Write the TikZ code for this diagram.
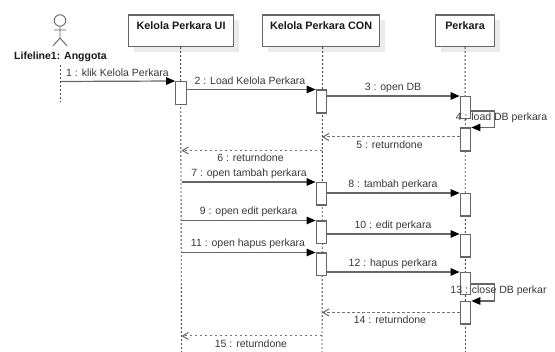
\documentclass[tikz,border=0pt]{standalone}
\usepackage{fontspec}
\setmainfont{Liberation Sans}
\usetikzlibrary{arrows.meta,shadows}
\definecolor{ln}{gray}{0.4}
\definecolor{txt}{gray}{0.22}
\tikzset{
  x=1pt,y=-1pt,
  every node/.style={font=\fontsize{10.5}{12}\selectfont,text=txt,inner sep=0pt},
  box/.style={draw=ln,line width=1.2pt,fill=white,anchor=north west,minimum height=31.5pt,
    text height=14pt,text depth=17.5pt,font=\fontsize{10.8}{12}\selectfont\bfseries,text=black!90,
    general shadow={fill=black!8,shadow xshift=5pt,shadow yshift=-5pt}},
  life/.style={draw=black!70,line width=0.9pt,dash pattern=on 2pt off 2pt},
  act/.style={draw=ln,line width=1.2pt,fill=white,anchor=north,minimum width=10.5pt},
  msg/.style={draw=ln,line width=1.2pt,-{Triangle[length=9pt,width=7.5pt,fill=black,color=black]}},
  ret/.style={draw=black!55,line width=1pt,dash pattern=on 2.5pt off 2.5pt,-{Straight Barb[length=6pt,width=7pt,color=black!60]}},
  lbl/.style={anchor=center}
}
\begin{document}
\begin{tikzpicture}
\useasboundingbox[fill=white] (0,0) rectangle (555,352);
% header boxes
\node[box,minimum width=105pt] (ui) at (128,14.5) {Kelola Perkara UI};
\node[box,minimum width=117pt] (con) at (262,14.5) {Kelola Perkara CON};
\node[box,minimum width=59pt] (per) at (435,14.5) {Perkara};
% actor
\node[draw=ln,line width=0.9pt,circle,minimum size=11.5pt] (head) at (60,20.5) {};
\coordinate (hip) at (60,38);
\coordinate (armL) at (54,30);
\coordinate (armR) at (66,30);
\coordinate (legL) at (53,46);
\coordinate (legR) at (67,46);
\draw[draw=ln,line width=0.9pt] (head.south) -- (hip) (armL) -- (armR) (legL) -- (hip) -- (legR);
\node[font=\fontsize{10.5}{12}\selectfont\bfseries,text=black!90] (actor) at (60.5,57) {Lifeline1: Anggota};
% lifelines
\coordinate (b1) at (60.5,102);
\coordinate (t1) at (60.5,65);
\coordinate (b2) at (181.5,352);
\coordinate (b3) at (322,352);
\coordinate (b4) at (465.5,352);
\draw[life] (t1) -- (b1);
\draw[life] (ui.south) ++(-0.5,0) -- (b2);
\draw[life] (con.south) ++(1.5,0) -- (b3);
\draw[life] (per.south) -- (b4);
% activations
\node[act,minimum height=23pt] (a1) at (181,81) {};
\node[act,minimum height=23pt] (c1) at (321.5,89.5) {};
\node[act,minimum height=22pt] (p1) at (465.5,96) {};
\node[act,minimum height=23pt] (p2) at (465.5,127.5) {};
\node[act,minimum height=22.5pt] (c2) at (321.5,182) {};
\node[act,minimum height=22.5pt] (p3) at (465.5,193) {};
\node[act,minimum height=22.5pt] (c3) at (321.5,220.5) {};
\node[act,minimum height=22.5pt] (p4) at (465.5,234) {};
\node[act,minimum height=22.5pt] (c4) at (321.5,252.5) {};
\node[act,minimum height=22pt] (p5) at (465.5,272) {};
\node[act,minimum height=22.5pt] (p6) at (465.5,301) {};
% messages
\coordinate (s1) at (60.5,81.5);
\draw[msg] (s1) -- (a1.north west);
\draw[msg] (a1.east |- c1.north) -- (c1.north west);
\draw[msg] (c1.east |- p1.north) -- (p1.north west);
\coordinate (y4a) at (494.5,111);
\coordinate (y4b) at (494.5,127.5);
\draw[msg] (p1.east |- y4a) -- (y4a) -- (y4b) -- (p2.north east);
\coordinate (y5) at (322,137);
\draw[ret] (p2.west |- y5) -- (y5);
\coordinate (y6a) at (322,150.5);
\coordinate (y6b) at (181.5,150.5);
\draw[ret] (y6a) -- (y6b);
\coordinate (s7) at (181.5,182);
\draw[msg] (s7) -- (c2.north west);
\draw[msg] (c2.east |- p3.north) -- (p3.north west);
\coordinate (s9) at (181.5,220.5);
\draw[msg] (s9) -- (c3.north west);
\draw[msg] (c3.east |- p4.north) -- (p4.north west);
\coordinate (s11) at (181.5,252.5);
\draw[msg] (s11) -- (c4.north west);
\draw[msg] (c4.east |- p5.north) -- (p5.north west);
\coordinate (y13a) at (494.5,284);
\coordinate (y13b) at (494.5,301);
\draw[msg] (p5.east |- y13a) -- (y13a) -- (y13b) -- (p6.north east);
\coordinate (y14) at (322,312.5);
\draw[ret] (p6.west |- y14) -- (y14);
\coordinate (y15a) at (322,336);
\coordinate (y15b) at (181.5,336);
\draw[ret] (y15a) -- (y15b);
% labels
\node[lbl] (l1) at (117.5,73) {1 : klik Kelola Perkara};
\node[lbl] (l2) at (250,81) {2 : Load Kelola Perkara};
\node[lbl] (l3) at (393,87.5) {3 : open DB};
\node[lbl] (l4) at (501.5,118) {4 : load DB perkara};
\node[lbl] (l5) at (389.5,145) {5 : returndone};
\node[lbl] (l6) at (250.5,158) {6 : returndone};
\node[lbl] (l7) at (249,174) {7 : open tambah perkara};
\node[lbl] (l8) at (393,185) {8 : tambah perkara};
\node[lbl] (l9) at (248.5,212) {9 : open edit perkara};
\node[lbl] (l10) at (393,226) {10 : edit perkara};
\node[lbl] (l11) at (248,244) {11 : open hapus perkara};
\node[lbl] (l12) at (393,263.5) {12 : hapus perkara};
\node[lbl] (l13) at (498.5,291) {13 : close DB perkar};
\node[lbl] (l14) at (390,320) {14 : returndone};
\node[lbl] (l15) at (251,344) {15 : returndone};
\end{tikzpicture}
\end{document}
